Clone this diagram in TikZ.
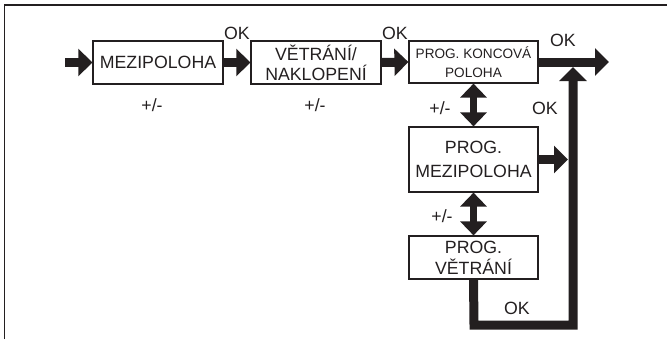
\documentclass[tikz,border=0pt]{standalone}
\usepackage{fontspec}
\setmainfont{Liberation Sans}
\usetikzlibrary{arrows.meta}
\definecolor{ink}{HTML}{231F20}
\begin{document}
\begin{tikzpicture}[x=0.75pt,y=-0.75pt,
  box/.style={draw=ink,line width=0.9pt,inner sep=0pt,align=center,text=ink,font=\fontsize{13.3pt}{15pt}\selectfont},
  lbl/.style={inner sep=0pt,text=ink,font=\fontsize{13.3pt}{15pt}\selectfont},
  flow/.style={draw=ink,line width=6.75pt,line join=miter,-{Triangle[length=10.5pt,width=20pt]}},
  dflow/.style={draw=ink,line width=5.6pt,{Triangle[length=10.5pt,width=19.5pt]}-{Triangle[length=10.5pt,width=19.5pt]}}]
\useasboundingbox (0,0) rectangle (667,339);
\draw[ink,line width=1.1pt] (4.5,339) -- (4.5,5) -- (667,5);
% boxes
\node[box,minimum width={130*0.75pt},minimum height={43*0.75pt}] (mez) at (158,62.5) {MEZIPOLOHA};
\node[box,minimum width={130*0.75pt},minimum height={43*0.75pt}] (vet) at (316,62.5) {VĚTRÁNÍ/\\NAKLOPENÍ};
\node[box,minimum width={129*0.75pt},minimum height={42*0.75pt},font=\fontsize{10.2pt}{14pt}\selectfont] (kon) at (473.5,62) {PROG. KONCOVÁ\\POLOHA};
\node[box,minimum width={129*0.75pt},minimum height={65*0.75pt},font=\fontsize{13.3pt}{17.5pt}\selectfont] (pm) at (473.5,159.5) {PROG.\\MEZIPOLOHA};
\node[box,minimum width={129*0.75pt},minimum height={43*0.75pt},font=\fontsize{13.3pt}{16pt}\selectfont] (pv) at (473.5,257.5) {PROG.\\VĚTRÁNÍ};
% coordinates
\coordinate (start) at (65,62.5);
\coordinate (out) at (609,62);
\coordinate (up) at (573,67);
\coordinate (join) at (568,159.5);
\coordinate (bot) at (474,325);
% connectors
\draw[flow] (start) -- (mez.west);
\draw[flow] (mez.east) -- (vet.west);
\draw[flow] (vet.east) -- (kon.west);
\draw[flow] (kon.east) -- (out);
\draw[flow] (pm.east) -- (join);
\draw[flow] (pv.south) -- (bot) -| (up);
\draw[dflow] (kon.south) -- (pm.north);
\draw[dflow] (pm.south) -- (pv.north);
% labels
\node[lbl] (ok1) at (237,33) {OK};
\node[lbl] (ok2) at (395,33) {OK};
\node[lbl] (ok3) at (563,40) {OK};
\node[lbl] (ok4) at (545,108) {OK};
\node[lbl] (ok5) at (517,308) {OK};
\node[lbl] (pm1) at (152,105) {+/-};
\node[lbl] (pm2) at (315,105) {+/-};
\node[lbl] (pm3) at (440,108) {+/-};
\node[lbl] (pm4) at (442,216) {+/-};
\end{tikzpicture}
\end{document}
